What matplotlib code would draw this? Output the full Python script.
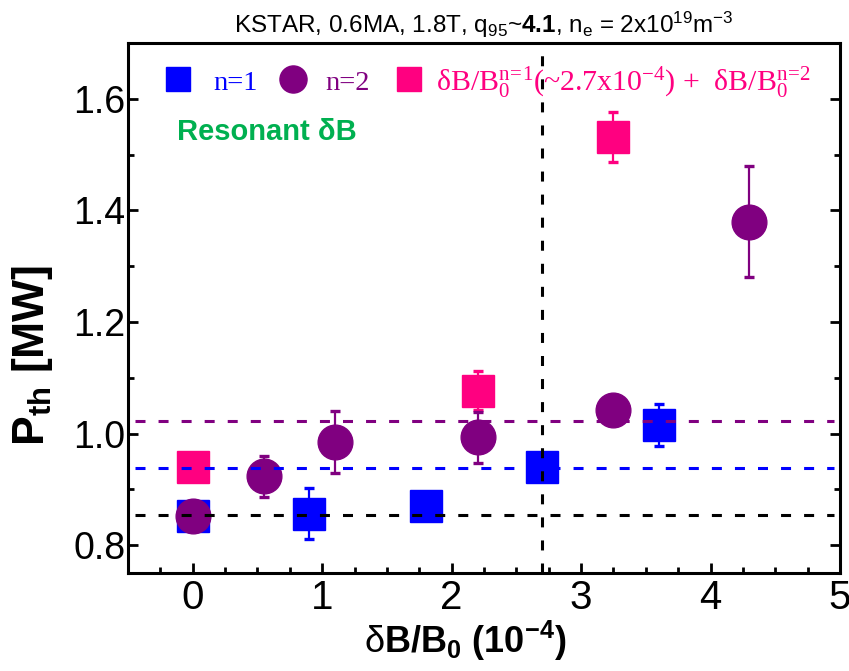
import matplotlib
matplotlib.use("Agg")
import matplotlib.pyplot as plt
from matplotlib.ticker import MultipleLocator, FormatStrFormatter

plt.rcParams['mathtext.fontset'] = 'custom'
plt.rcParams['mathtext.default'] = 'regular'
plt.rcParams['mathtext.rm'] = 'Liberation Sans'
plt.rcParams['mathtext.bf'] = 'Liberation Sans:bold'
plt.rcParams['lines.scale_dashes'] = False

SANS = ['Liberation Sans', 'DejaVu Sans']
SERIF = ['Liberation Serif', 'DejaVu Serif']

# n=1 resonant perturbation scan
n1_x = [0.0, 0.9, 1.8, 2.7, 3.6]
n1_p = [0.853, 0.856, 0.870, 0.940, 1.015]
n1_err = [0.010, 0.046, 0.015, 0.015, 0.037]

# n=2 resonant perturbation scan
n2_x = [0.0, 0.55, 1.1, 2.2, 3.25, 4.3]
n2_p = [0.853, 0.923, 0.985, 0.993, 1.043, 1.380]
n2_err = [0.010, 0.036, 0.055, 0.046, 0.010, 0.100]

# n=1 (~2.7e-4) plus n=2 combined
mix_x = [0.0, 2.2, 3.25]
mix_p = [0.940, 1.077, 1.532]
mix_err = [0.020, 0.035, 0.045]

# reference threshold levels and the n=1 amplitude used in the combined case
level_black = 0.854
level_blue = 0.938
level_purple = 1.022
level_span = (-0.45, 4.95)
n1_fixed = 2.7

BLUE = '#0000FF'
PURPLE = '#800080'
PINK = '#FF0080'
GREEN = '#00B050'

fig = plt.figure(figsize=(8.49, 6.71), dpi=100)
ax = fig.add_axes([0.1508, 0.1461, 0.8386, 0.7898])

eb = dict(elinewidth=1.6, capsize=3.8, capthick=2.4, linestyle='none')
ax.errorbar(n1_x, n1_p, yerr=n1_err, fmt='s', ms=23, color=BLUE, mec=BLUE, zorder=3, **eb)
ax.errorbar(mix_x, mix_p, yerr=mix_err, fmt='s', ms=23, color=PINK, mec=PINK, zorder=3, **eb)
ax.errorbar(n2_x, n2_p, yerr=n2_err, fmt='o', ms=25, color=PURPLE, mec=PURPLE, zorder=4, **eb)

dash = (7.2, 9.4)
for lvl, c in [(level_black, 'black'), (level_blue, BLUE), (level_purple, PURPLE)]:
    ax.hlines(lvl, level_span[0], level_span[1], colors=c, linewidth=2.2,
              linestyles=[(0, dash)], zorder=5)
ax.axvline(n1_fixed, color='black', linewidth=2.2, linestyle=(0, dash), zorder=5)

ax.set_xlim(-0.5, 5.0)
ax.set_ylim(0.75, 1.70)
ax.xaxis.set_major_locator(MultipleLocator(1))
ax.xaxis.set_minor_locator(MultipleLocator(0.25))
ax.yaxis.set_major_locator(MultipleLocator(0.2))
ax.yaxis.set_minor_locator(MultipleLocator(0.1))
ax.yaxis.set_major_formatter(FormatStrFormatter('%.1f'))

for s in ax.spines.values():
    s.set_linewidth(2.2)
ax.tick_params(axis='both', which='both', direction='in', width=2.0)
ax.tick_params(axis='both', which='major', length=7)
ax.tick_params(axis='both', which='minor', length=4)
ax.tick_params(axis='y', which='both', right=True, left=True, pad=2)
ax.tick_params(axis='x', which='both', top=False, pad=4)
for lab in ax.get_xticklabels():
    lab.set_fontfamily(SANS)
    lab.set_fontsize(29)
for lab in ax.get_yticklabels():
    lab.set_fontfamily(SANS)
    lab.set_fontsize(27)

ax.set_xlabel(r'$\mathrm{δ}$B/B$_0$ (10$^{-4}$)', fontfamily=SANS, fontsize=26,
              fontweight='bold', va='baseline')
ax.xaxis.set_label_coords(0.474, -0.151)
ax.set_ylabel(r'P$_{th}$ [MW]', fontfamily=SANS, fontsize=32, fontweight='bold')
ax.yaxis.set_label_coords(-0.103, 0.411)

ax.set_title(r'KSTAR, 0.6MA, 1.8T, q$_{95}$~$\mathbf{4.1}$, n$_e$ = 2x10$^{19}$m$^{-3}$',
             fontfamily=SANS, fontsize=17.5, pad=7)

# legend row drawn in axes fraction
tr = ax.transAxes
ax.plot([0.0702], [0.932], 's', ms=17, color=BLUE, transform=tr, clip_on=False)
ax.text(0.1194, 0.9113, 'n=1', color=BLUE, fontfamily=SERIF, fontsize=20.5,
        transform=tr, va='baseline')
ax.plot([0.2317], [0.932], 'o', ms=19.5, color=PURPLE, transform=tr, clip_on=False)
ax.text(0.2767, 0.9113, 'n=2', color=PURPLE, fontfamily=SERIF, fontsize=20.5,
        transform=tr, va='baseline')
ax.plot([0.3947], [0.932], 's', ms=17, color=PINK, transform=tr, clip_on=False)
ax.text(0.4326, 0.9113,
        r'δB/B$_0^{n\!=\!1}$(~2.7x10$^{-4}$) +  δB/B$_0^{n\!=\!2}$',
        color=PINK, fontfamily=SERIF, fontsize=21.5, transform=tr, va='baseline')

ax.text(0.0688, 0.817, 'Resonant δB', color=GREEN, fontfamily=SANS, fontsize=21,
        fontweight='bold', transform=tr, va='baseline')

fig.savefig('out.png', dpi=100)
